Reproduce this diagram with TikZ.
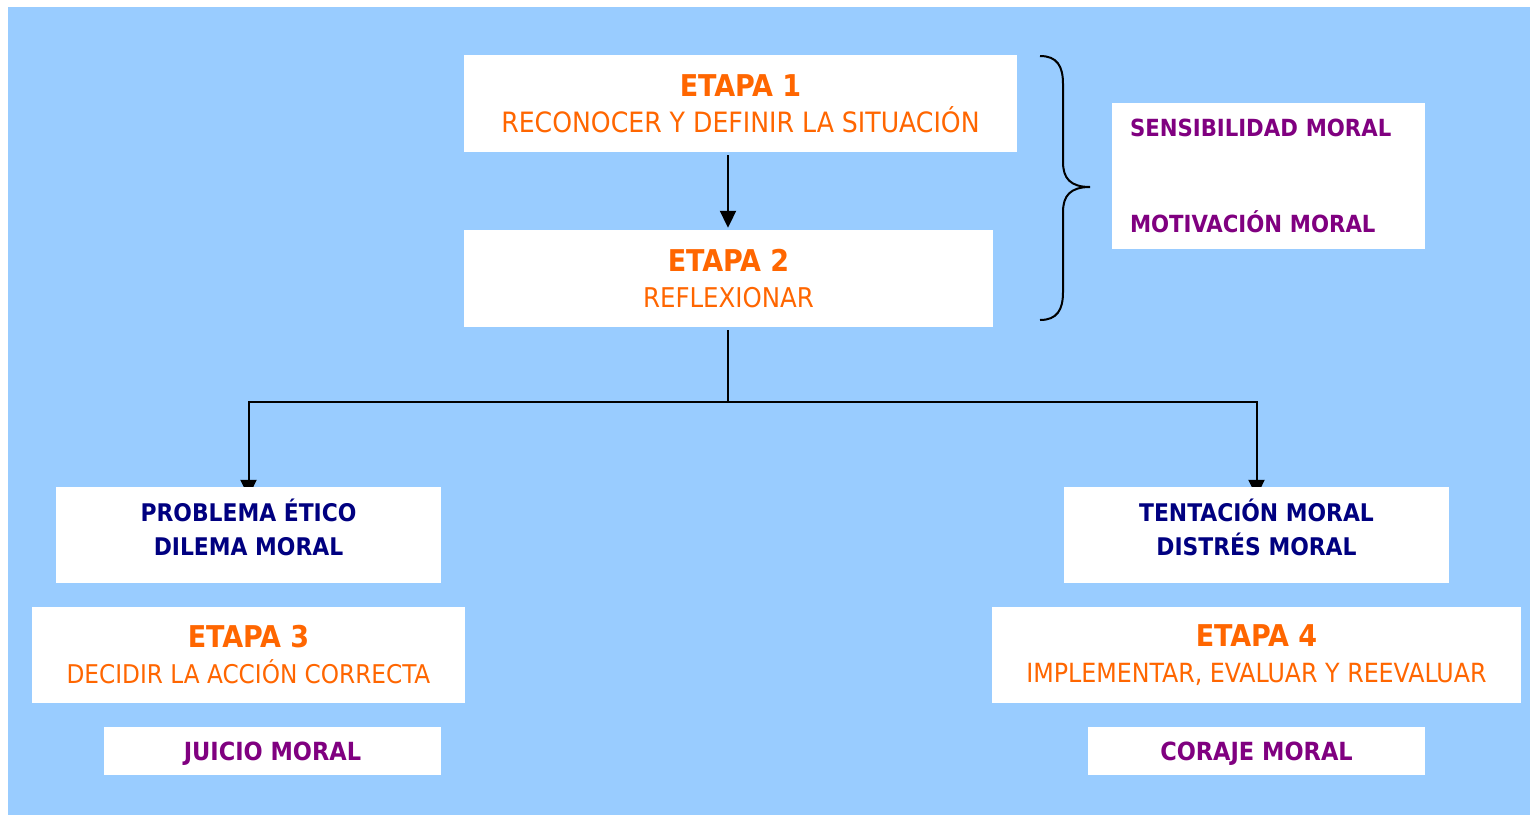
\documentclass[tikz,border=0pt]{standalone}
\usepackage{fontspec}
\setmainfont{DejaVu Sans Condensed}
\usetikzlibrary{arrows.meta}
\definecolor{bgblue}{HTML}{99CCFF}
\definecolor{etorange}{HTML}{FF6600}
\definecolor{navy}{HTML}{000080}
\definecolor{purp}{HTML}{800080}
\pgfdeclarelayer{bg}
\pgfdeclarelayer{conn}
\pgfsetlayers{bg,conn,main}
\tikzset{
  box/.style={fill=white, draw=none, inner sep=0pt, align=center},
  stage/.style={box, text=etorange, font=\fontsize{#1}{36}\selectfont},
  probbox/.style={box, text=navy, font=\fontsize{24.3}{34}\selectfont\bfseries, minimum width=385, minimum height=96},
  compbox/.style={box, text=purp, font=\fontsize{25}{30}\selectfont\bfseries, minimum width=337, minimum height=48, text height=18.2pt, text depth=0pt},
  conn/.style={line width=2pt, draw=black},
  arr/.style={conn, -{Triangle[width=16pt,length=17pt]}},
}
\newcommand{\stagetitle}[1]{{\fontsize{30}{36}\selectfont\bfseries #1}}
\begin{document}
\begin{tikzpicture}[x=1pt,y=-1pt]
\useasboundingbox (0,0) rectangle (1533,817);
\begin{pgfonlayer}{bg}
\fill[bgblue] (8,7) rectangle (1530,815);
\end{pgfonlayer}

% stage boxes
\node[stage=28, minimum width=553, minimum height=97] (e1) at (740.5,103.5) {\stagetitle{ETAPA 1}\\RECONOCER Y DEFINIR LA SITUACIÓN};
\node[stage=27.2, minimum width=529, minimum height=97] (e2) at (728.5,278.5) {\stagetitle{ETAPA 2}\\REFLEXIONAR};
\node[stage=25.8, minimum width=433, minimum height=96] (e3) at (248.5,655) {\stagetitle{ETAPA 3}\\DECIDIR LA ACCIÓN CORRECTA};
\node[stage=26.4, minimum width=529, minimum height=96] (e4) at (1256.5,655) {\stagetitle{ETAPA 4}\\IMPLEMENTAR, EVALUAR Y REEVALUAR};

% problem boxes
\node[probbox] (pe) at (248.5,535) {PROBLEMA ÉTICO\\DILEMA MORAL\\[-18pt]};
\node[probbox] (tm) at (1256.5,535) {TENTACIÓN MORAL\\DISTRÉS MORAL\\[-18pt]};

% moral components
\node[compbox] (jm) at (272.5,751) {JUICIO MORAL};
\node[compbox] (cm) at (1256.5,751) {CORAJE MORAL};
\node[box, text=purp, font=\fontsize{23.6}{30}\selectfont\bfseries, align=left, text width=277pt, inner xsep=18pt, minimum height=146] (sm) at (1268.5,176) {SENSIBILIDAD MORAL\\[66pt]MOTIVACIÓN MORAL};

% connectors
\coordinate (j) at (728,402);
\begin{pgfonlayer}{conn}
\draw[arr, shorten <=3pt, shorten >=2pt] (e1.south -| j) -- (e2.north -| j);
\draw[conn, shorten <=3pt] (e2.south -| j) -- (j);
\draw[arr, shorten >=-10pt] (j) -| (pe.north);
\draw[arr, shorten >=-10pt] (j) -| (tm.north);
\end{pgfonlayer}

% brace
\draw[line width=2pt] (1040,56) .. controls (1057,56) and (1063,66) .. (1063,84) -- (1063,162)
  .. controls (1063,178) and (1070,187) .. (1090,187)
  .. controls (1070,187) and (1063,196) .. (1063,212) -- (1063,292)
  .. controls (1063,310) and (1057,320) .. (1040,320);
\end{tikzpicture}
\end{document}
